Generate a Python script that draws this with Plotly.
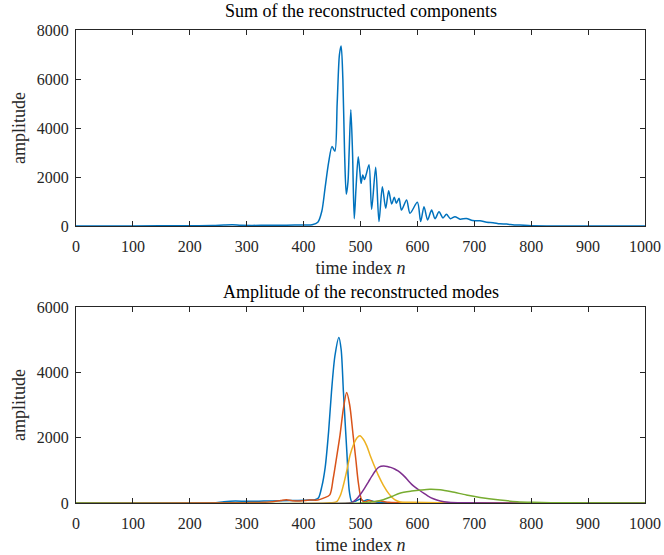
import plotly.graph_objects as go

# ---- Top panel: sum of reconstructed components ----
sum_n = [0, 100, 200, 240, 260, 275, 290, 310, 340, 370, 400, 415, 425, 432, 438, 444,
         450, 455, 459, 463, 466, 469, 472, 475, 478, 480, 483, 486, 489, 492, 496, 499,
         501, 504, 507, 510, 515, 519.6, 526.7, 532.5, 538.4, 544.3, 549.5, 554.8, 559.4,
         563, 567.7, 572, 581, 587, 600, 605.8, 611.6, 618, 625, 631, 638, 645, 651, 658,
         666, 675, 686, 697, 710, 722, 733, 745, 757, 770, 780, 800, 850, 1000]
sum_v = [0, 5, 10, 20, 40, 50, 30, 25, 30, 35, 40, 50, 150, 600, 1600, 2600,
         3250, 3050, 5000, 7000, 7350, 6000, 3000, 1300, 1800, 3000, 4750, 3000, 300, 1500, 2830, 2200,
         1740, 2080, 1900, 2100, 2500, 680, 2400, 180, 1600, 720, 1440, 900, 1170,
         925, 1130, 650, 1060, 520, 970, 180, 790, 250, 650, 300, 580, 330, 480, 300,
         380, 280, 310, 220, 215, 150, 135, 90, 80, 40, 40, 10, 5, 0]

# ---- Bottom panel: amplitude of reconstructed modes ----
m1_n = [0, 240, 260, 280, 300, 330, 360, 390, 410, 420, 426, 432, 438, 444, 449, 455, 462,
        466, 470, 476, 480.5, 485, 492, 500, 505, 512, 520, 530, 560, 1000]
m1_v = [0, 0, 40, 60, 50, 60, 70, 80, 90, 100, 150, 500, 1100, 2200, 3400, 4500, 5070,
        4700, 3400, 1570, 345, 30, 60, 120, 60, 100, 60, 20, 5, 0]

m2_n = [0, 300, 340, 360, 370, 380, 395, 410, 425, 435, 446, 452, 458, 464, 470, 475.7,
        481, 487, 492, 496, 502, 508, 515, 522, 535, 550, 600, 1000]
m2_v = [0, 10, 30, 80, 100, 70, 60, 90, 90, 150, 250, 750, 1400, 2080, 2900, 3380,
        3000, 2080, 1300, 650, 100, 30, 80, 40, 60, 20, 10, 0]

m3_n = [0, 440, 458, 465, 470, 476, 481.7, 488, 494, 499, 505, 511, 516.7, 524, 531, 540,
        550, 560, 570, 590, 650, 1000]
m3_v = [0, 0, 40, 250, 550, 1000, 1470, 1800, 2000, 2060, 1950, 1750, 1470, 1150, 860, 550,
        280, 100, 30, 20, 10, 0]

m4_n = [0, 478, 485, 493, 500, 507, 514, 520, 526, 531, 536, 541, 547, 553, 560, 566, 572,
        578, 584, 590, 597, 604, 611, 618, 628, 640, 655, 680, 1000]
m4_v = [0, 0, 20, 120, 270, 450, 650, 820, 980, 1080, 1125, 1135, 1120, 1090, 1040, 980, 900,
        800, 680, 570, 470, 385, 300, 220, 130, 60, 20, 5, 0]

m5_n = [0, 500, 520, 540, 555, 569, 590, 607, 622, 640, 660, 686, 710, 745, 775, 803, 850, 1000]
m5_v = [0, 0, 30, 100, 200, 300, 365, 400, 420, 405, 345, 245, 170, 90, 40, 20, 5, 0]

x_ticks = [0, 100, 200, 300, 400, 500, 600, 700, 800, 900, 1000]
top_yticks = [0, 2000, 4000, 6000, 8000]
bot_yticks = [0, 2000, 4000, 6000]

colors = ["#0072BD", "#D95319", "#EDB120", "#7E2F8E", "#77AC30"]
AX = "#262626"
FONT = "Liberation Serif"

fig = go.Figure()
fig.add_trace(go.Scatter(x=sum_n, y=sum_v, mode="lines",
                         line=dict(color=colors[0], width=1.5, shape="spline", smoothing=0.8),
                         xaxis="x", yaxis="y", showlegend=False))
for i, (nn, vv) in enumerate([(m1_n, m1_v), (m2_n, m2_v), (m3_n, m3_v), (m4_n, m4_v), (m5_n, m5_v)]):
    fig.add_trace(go.Scatter(x=nn, y=vv, mode="lines",
                             line=dict(color=colors[i], width=1.5, shape="spline", smoothing=0.8),
                             xaxis="x2", yaxis="y2", showlegend=False))

W, H = 664, 555
xd = [76 / W, 645 / W]
yd_top = [1 - 226 / H, 1 - 30 / H]
yd_bot = [1 - 503 / H, 1 - 307 / H]

TICKF = dict(family=FONT, size=16, color=AX)
TITF = dict(family=FONT, size=18, color=AX)

common_x = dict(range=[0, 1000], tickvals=x_ticks, ticks="inside", ticklen=5, tickcolor=AX,
                showline=True, linecolor=AX, linewidth=1, mirror="ticks", showgrid=False,
                zeroline=False, tickfont=TICKF, domain=xd, automargin=False,
                ticklabelstandoff=6)
common_y = dict(ticks="inside", ticklen=5, tickcolor=AX, showline=True, linecolor=AX,
                linewidth=1, mirror="ticks", showgrid=False, zeroline=False,
                tickfont=TICKF, automargin=False, ticklabelstandoff=3)

fig.update_layout(
    width=W, height=H, margin=dict(l=0, r=0, t=0, b=0, autoexpand=False),
    paper_bgcolor="white", plot_bgcolor="white",
    xaxis=dict(**common_x, anchor="y",
               title=dict(text="time index <i>n</i>", font=TITF, standoff=7)),
    yaxis=dict(**common_y, range=[0, 8000], tickvals=top_yticks, domain=yd_top, anchor="x",
               title=dict(text="amplitude", font=TITF, standoff=6)),
    xaxis2=dict(**common_x, anchor="y2",
                title=dict(text="time index <i>n</i>", font=TITF, standoff=7)),
    yaxis2=dict(**common_y, range=[0, 6000], tickvals=bot_yticks, domain=yd_bot, anchor="x2",
                title=dict(text="amplitude", font=TITF, standoff=6)),
    annotations=[
        dict(text="Sum of the reconstructed components", x=(xd[0] + xd[1]) / 2, y=1 - 11 / H,
             xref="paper", yref="paper", showarrow=False, yanchor="middle",
             font=dict(family=FONT, size=18, color="black")),
        dict(text="Amplitude of the reconstructed modes", x=(xd[0] + xd[1]) / 2, y=1 - 292 / H,
             xref="paper", yref="paper", showarrow=False, yanchor="middle",
             font=dict(family=FONT, size=18, color="black")),
    ],
)

fig.write_html("out.html")
